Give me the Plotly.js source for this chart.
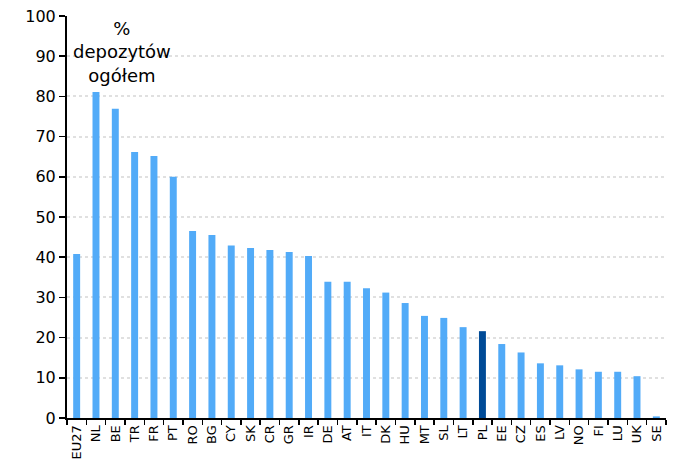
<!DOCTYPE html>
<html><head><meta charset="utf-8">
<script src="https://cdn.plot.ly/plotly-3.0.1.min.js"></script>
<style>body{margin:0;background:#fff}#c{width:679px;height:461px}</style>
</head><body><div id="c"></div>
<script>
const countries = ["EU27","NL","BE","TR","FR","PT","RO","BG","CY","SK","CR","GR","IR","DE","AT","IT","DK","HU","MT","SL","LT","PL","EE","CZ","ES","LV","NO","FI","LU","UK","SE"];
const values = [40.8,81.1,76.9,66.2,65.2,60.0,46.5,45.5,42.9,42.3,41.8,41.3,40.3,33.9,33.9,32.3,31.2,28.6,25.4,24.9,22.6,21.6,18.4,16.3,13.6,13.1,12.1,11.5,11.5,10.4,0.4];
const highlight = "PL";
const colors = countries.map(c => c === highlight ? "#004b97" : "#52abf8");
const yTicks = [0,10,20,30,40,50,60,70,80,90,100];
const fontFam = "'DejaVu Sans', Verdana, sans-serif";
Plotly.newPlot("c", [{
  type: "bar", x: countries, y: values,
  marker: {color: colors, line: {width: 0}},
  hoverinfo: "x+y"
}], {
  width: 679, height: 461,
  margin: {l: 67, r: 13, t: 16, b: 43},
  paper_bgcolor: "#fff", plot_bgcolor: "#fff",
  bargap: 0.64,
  showlegend: false,
  font: {family: fontFam, color: "#000"},
  xaxis: {
    type: "category", tickangle: -90, tickfont: {size: 13, family: fontFam},
    showline: true, linecolor: "#000", linewidth: 2,
    ticks: "outside", ticklen: 5, tickcolor: "#000", tickwidth: 1.5,
    tickson: "boundaries", showgrid: false, fixedrange: true
  },
  yaxis: {
    range: [0, 100], tickvals: yTicks, ticktext: yTicks.map(String),
    tickfont: {size: 16, family: fontFam},
    showline: true, linecolor: "#000", linewidth: 2,
    ticks: "outside", ticklen: 6, tickcolor: "#000", tickwidth: 1.5,
    showgrid: true, gridcolor: "#e0e0e0", griddash: "dot", gridwidth: 2,
    zeroline: false, fixedrange: true
  },
  annotations: [{
    xref: "paper", yref: "paper", x: 0.092, xanchor: "center", y: 1.0, yanchor: "top",
    text: "%<br>depozytów<br>ogółem", showarrow: false,
    font: {size: 18, family: fontFam, color: "#000"}, align: "center"
  }]
}, {displayModeBar: false, staticPlot: true});
</script></body></html>
